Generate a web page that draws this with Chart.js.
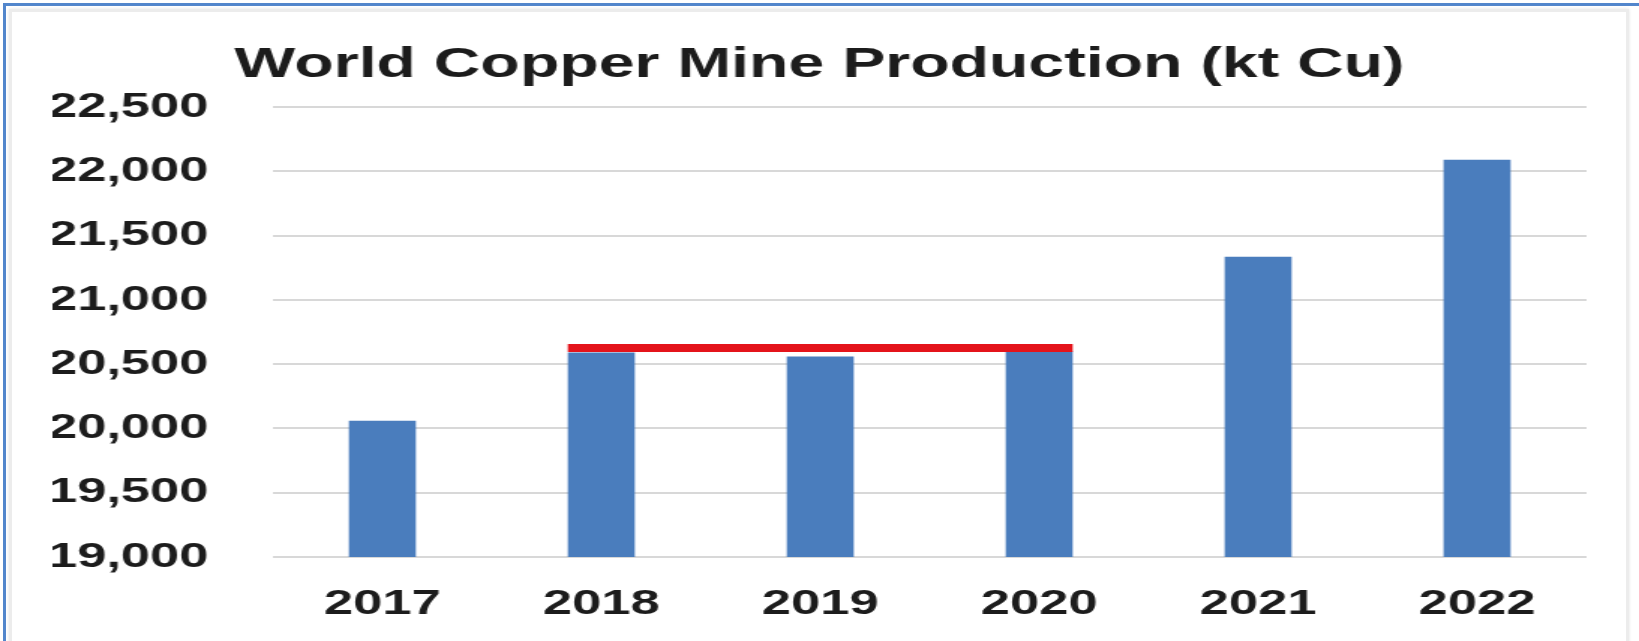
<!DOCTYPE html>
<html>
<head>
<meta charset="utf-8">
<script src="https://cdn.jsdelivr.net/npm/chart.js@4.4.1/dist/chart.umd.min.js"></script>
<style>
  html, body { margin: 0; padding: 0; background: #ffffff; }
  body { width: 1639px; height: 641px; position: relative; overflow: hidden; }
  .frame-outer {
    position: absolute; left: 3px; top: 3px; width: 1660px; height: 660px;
    border-top: 3px solid #5286cc; border-left: 3px solid #5286cc;
  }
  .frame-inner {
    position: absolute; left: 9px; top: 9px; width: 1614px; height: 660px;
    border: 3px solid #ececec; box-shadow: 0 0 3px #e2e2e2;
  }
  #chart { position: absolute; left: 0; top: 0; }
</style>
</head>
<body>
<div class="frame-outer"></div>
<div class="frame-inner"></div>
<canvas id="chart" width="1093" height="641" style="width:1639px;height:641px"></canvas>
<script>
// World copper mine production, thousand tonnes of copper
const years = ['2017', '2018', '2019', '2020', '2021', '2022'];
const production = [20060, 20590, 20560, 20600, 21335, 22090];

// Value axis range and step
const axisMin = 19000;
const axisMax = 22500;
const axisStep = 500;

// Flat production level marked across 2018-2020
const plateauYears = ['2018', '2020'];
const plateauLevel = [20625, 20625];

const fontFamily = '"Liberation Sans", Arial, Helvetica, sans-serif';
const textColor = '#1c1c1c';

// Draws the red plateau segment from the left edge of the first marked bar
// to the right edge of the last one, at the plateau level on the value scale.
const plateauLine = {
  id: 'plateauLine',
  afterDatasetsDraw(chart) {
    const meta = chart.getDatasetMeta(0);
    const i0 = years.indexOf(plateauYears[0]);
    const i1 = years.indexOf(plateauYears[1]);
    const b0 = meta.data[i0];
    const b1 = meta.data[i1];
    const yScale = chart.scales.y;
    const x0 = b0.x - b0.width / 2;
    const x1 = b1.x + b1.width / 2;
    const y0 = yScale.getPixelForValue(plateauLevel[0]);
    const y1 = yScale.getPixelForValue(plateauLevel[1]);
    const ctx = chart.ctx;
    ctx.save();
    ctx.strokeStyle = '#e4141b';
    ctx.lineWidth = 8;
    ctx.lineCap = 'butt';
    ctx.beginPath();
    ctx.moveTo(x0, y0);
    ctx.lineTo(x1, y1);
    ctx.stroke();
    ctx.restore();
  }
};

new Chart(document.getElementById('chart'), {
  type: 'bar',
  data: {
    labels: years,
    datasets: [{
      data: production,
      backgroundColor: '#4a7dbd',
      borderWidth: 0,
      barPercentage: 0.306,
      categoryPercentage: 1.0
    }]
  },
  options: {
    responsive: false,
    animation: false,
    devicePixelRatio: 1,
    layout: { padding: { left: 35, right: 35, top: 0, bottom: 0 } },
    plugins: {
      legend: { display: false },
      tooltip: { enabled: false },
      title: {
        display: true,
        text: 'World Copper Mine Production (kt Cu)',
        color: textColor,
        font: { family: fontFamily, size: 43, weight: 'bold', lineHeight: 1.2 },
        padding: { top: 39, bottom: 16.4 }
      }
    },
    scales: {
      x: {
        grid: { display: false, drawTicks: false },
        border: { display: false },
        ticks: {
          color: textColor,
          padding: 26,
          font: { family: fontFamily, size: 35, weight: 'bold' }
        },
        afterFit(scale) { scale.height = 84; }
      },
      y: {
        min: axisMin,
        max: axisMax,
        grid: { color: '#d8d8d8', lineWidth: 2, drawTicks: false },
        border: { display: false },
        ticks: {
          stepSize: axisStep,
          color: textColor,
          padding: 43,
          font: { family: fontFamily, size: 35, weight: 'bold' },
          callback: (v) => v.toLocaleString('en-US')
        },
        afterFit(scale) { scale.width = 147; }
      }
    }
  },
  plugins: [plateauLine]
});
</script>
</body>
</html>
